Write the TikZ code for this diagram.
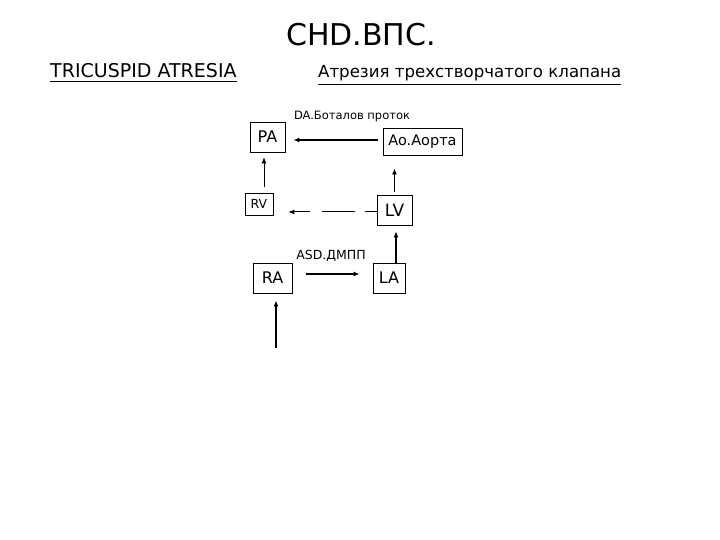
\documentclass[tikz,border=0pt]{standalone}
\usepackage{fontspec}
\setmainfont{DejaVu Sans}
\usetikzlibrary{arrows.meta}

\begin{document}
\begin{tikzpicture}[x=1pt, y=-1pt, >={Latex[length=6pt,width=5pt]},
	box/.style={draw, line width=0.8pt, inner sep=0pt},
	arr/.style={->, line width=1.4pt},
	lbl/.style={font=\fontsize{11.5}{13}\selectfont}]
	\useasboundingbox (0,0) rectangle (720,540);
	\node (title) at (361,35) {\fontsize{30}{34}\selectfont CHD.ВПС.};
	\node[anchor=base west, inner sep=0pt, font=\fontsize{19}{21}\selectfont] (hEn) at (50,78) {TRICUSPID ATRESIA};
	\node[anchor=base west, inner sep=0pt, font=\fontsize{16.6}{19}\selectfont] (hRu) at (318,78) {Атрезия трехстворчатого клапана};
	\draw[line width=0.8pt] ([yshift=-3pt]hEn.south west) -- ([yshift=-3pt]hEn.south east);
	\draw[line width=0.8pt] ([yshift=-3pt]hRu.south west) -- ([yshift=-3pt]hRu.south east);
	% chambers and vessels
	\node[box, minimum width=35, minimum height=30, font=\fontsize{16}{18}\selectfont] (PA) at (267.5,137) {PA};
	\node[box, minimum width=79, minimum height=27, font=\fontsize{14.5}{16}\selectfont] (Ao) at (422.5,141.5) {Ao.Aорта};
	\node[box, minimum width=28, minimum height=22, font=\fontsize{12.5}{14}\selectfont] (RV) at (259,204) {RV};
	\node[box, minimum width=35, minimum height=30, font=\fontsize{17}{19}\selectfont] (LV) at (394.5,210) {LV};
	\node[box, minimum width=39, minimum height=30, font=\fontsize{16}{18}\selectfont] (RA) at (272.5,278) {RA};
	\node[box, minimum width=32, minimum height=30, font=\fontsize{16}{18}\selectfont] (LA) at (389,278) {LA};
	\node[lbl] (daLbl) at (352,117) {DA.Боталов проток};
	\node[lbl, font=\fontsize{12.5}{14}\selectfont] (asdLbl) at (331,256) {ASD.ДМПП};
	\coordinate (inRA) at (276,348);
	% flow
	\draw[arr, shorten <=5pt, shorten >=8pt] ([yshift=-3pt]Ao.west |- PA.east) -- ([yshift=-3pt]PA.east);
	\draw[->, line width=0.7pt, shorten <=6pt, shorten >=5pt] ([xshift=-3.5pt]PA.south |- RV.north) -- ([xshift=-3.5pt]PA.south);
	\draw[arr, line width=1pt, dash pattern=on 12pt off 10pt on 33pt off 12pt on 18pt off 5pt, shorten >=15pt] ([yshift=-2pt]LV.west) -- ([yshift=-2pt]LV.west -| RV.east);
	\draw[arr, shorten <=3pt, shorten >=13pt] (LV.north) -- (LV.north |- Ao.south);
	\draw[arr, shorten >=6pt] ([xshift=1.5pt]LA.north -| LV.south) -- ([xshift=1.5pt]LV.south);
	\draw[arr, shorten <=14pt, shorten >=13pt] ([yshift=4pt]RA.east) -- ([yshift=4pt]RA.east -| LA.west);
	\draw[arr, shorten >=7pt] (inRA) -- (inRA |- RA.south);
\end{tikzpicture}
\end{document}
